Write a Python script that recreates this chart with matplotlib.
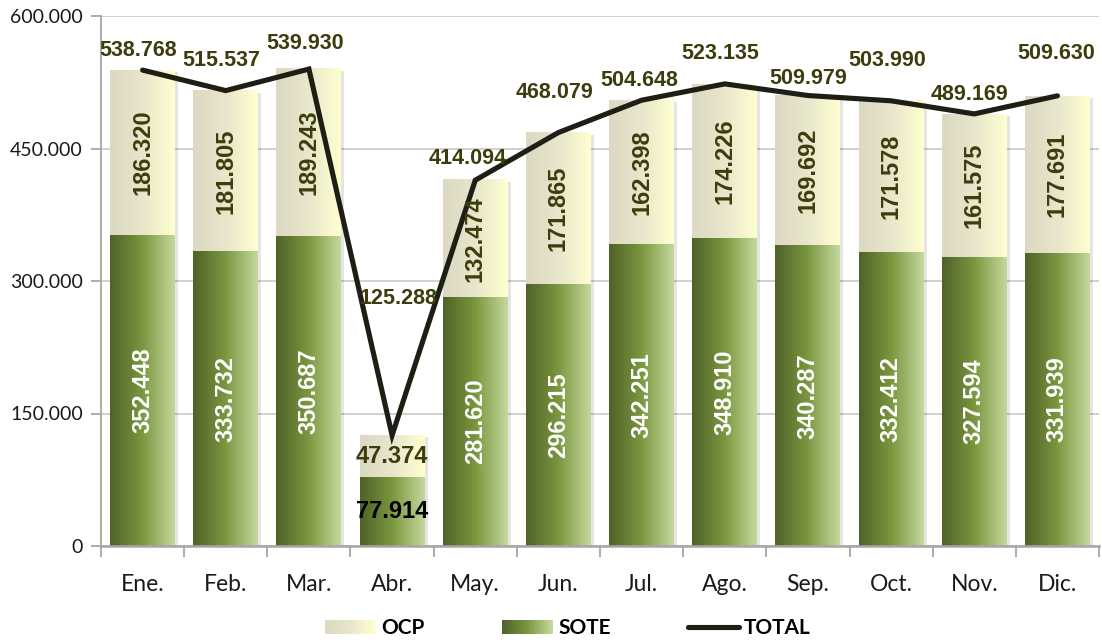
import numpy as np
import matplotlib
matplotlib.use("Agg")
import matplotlib.pyplot as plt
from matplotlib.colors import LinearSegmentedColormap
from matplotlib.patches import Rectangle
from matplotlib.lines import Line2D
from matplotlib.legend_handler import HandlerBase
from matplotlib.ticker import FuncFormatter, FixedLocator
import matplotlib.transforms as mtransforms

# ---------------- data ----------------
months = ["Ene.", "Feb.", "Mar.", "Abr.", "May.", "Jun.", "Jul.", "Ago.", "Sep.", "Oct.", "Nov.", "Dic."]
sote = [352448, 333732, 350687, 77914, 281620, 296215, 342251, 348910, 340287, 332412, 327594, 331939]
ocp = [186320, 181805, 189243, 47374, 132474, 171865, 162398, 174226, 169692, 171578, 161575, 177691]
total = [538768, 515537, 539930, 125288, 414094, 468079, 504648, 523135, 509979, 503990, 489169, 509630]

# label offsets (pixels) for total labels
total_label_offsets = [(-4, 20), (-4, 30), (-4, 26), (6, 137), (-8, 22), (-4, 40),
                       (-2, 20), (-5, 30), (0, 17), (-4, 40), (-5, 19), (-1, 42)]

def fmt(v):
    return f"{v:,.0f}".replace(",", ".")

# ---------------- style ----------------
sote_cmap = LinearSegmentedColormap.from_list("sote", ["#4f6228", "#7a973f", "#c5d89d"])
ocp_cmap = LinearSegmentedColormap.from_list("ocp", ["#dcd8c2", "#e8e6cb", "#ffffd0"])
label_col = "#3d3c0c"
line_col = "#1e1e14"
grid_col = "#c3c3c3"
spine_col = "#a6a6a6"

fig = plt.figure(figsize=(11.02, 6.43), dpi=100)
ax = fig.add_axes([101 / 1102, 97 / 643, 998 / 1102, 530 / 643])

x = np.arange(len(months))
w = 0.78

b_sote = ax.bar(x, sote, width=w, color="none", edgecolor="none", zorder=2)
b_ocp = ax.bar(x, ocp, width=w, bottom=sote, color="none", edgecolor="none", zorder=2)

shadow_tr = mtransforms.offset_copy(ax.transData, fig=fig, x=3, y=-2, units="dots")

def grad_fill(patch, cmap):
    x0, y0 = patch.get_x(), patch.get_y()
    pw, ph = patch.get_width(), patch.get_height()
    img = np.linspace(0, 1, 256).reshape(1, -1)
    ax.imshow(img, extent=(x0, x0 + pw, y0, y0 + ph), cmap=cmap, aspect="auto",
              zorder=2, interpolation="bilinear")

for ps, po in zip(b_sote, b_ocp):
    x0 = ps.get_x()
    top = po.get_y() + po.get_height()
    ax.add_patch(Rectangle((x0, 0), ps.get_width(), top, transform=shadow_tr,
                           facecolor="black", alpha=0.10, edgecolor="none", zorder=1.5))
    grad_fill(ps, sote_cmap)
    grad_fill(po, ocp_cmap)

ax.plot(x, total, color=line_col, lw=3.7, zorder=4, solid_joinstyle="miter", solid_capstyle="round")

# bar labels
bar_font = dict(family="Liberation Sans", weight="bold", fontsize=17)
for i, (s, o) in enumerate(zip(sote, ocp)):
    if s > 150000:
        ax.text(x[i], s / 2, fmt(s), rotation=90, ha="center", va="center",
                color="white", zorder=5, **bar_font)
        ax.text(x[i], s + o / 2, fmt(o), rotation=90, ha="center", va="center",
                color=label_col, zorder=5, **bar_font)
    else:
        ax.text(x[i], s / 2, fmt(s), ha="center", va="center",
                color="black", zorder=5, **bar_font)
        ax.text(x[i], s + o / 2, fmt(o), ha="center", va="center",
                color=label_col, zorder=5, **bar_font)

for i, t in enumerate(total):
    dx, dy = total_label_offsets[i]
    ax.annotate(fmt(t), (x[i], t), xytext=(dx, dy), textcoords="offset pixels",
                ha="center", va="center", color=label_col, zorder=6,
                family="Liberation Sans", weight="bold", fontsize=15.5)

# axes
ax.set_xlim(-0.5, len(months) - 0.5)
ax.set_ylim(0, 600000)
ax.set_yticks([0, 150000, 300000, 450000, 600000])
ax.yaxis.set_major_formatter(FuncFormatter(lambda v, p: fmt(v)))
ax.set_xticks(x)
ax.set_xticklabels(months)
ax.xaxis.set_minor_locator(FixedLocator(np.arange(-0.5, len(months), 1.0)))
ax.tick_params(axis="x", which="major", length=0, pad=20, labelsize=16.5, labelcolor="#1a1a1a")
ax.tick_params(axis="x", which="minor", length=8, width=1.3, color=spine_col, direction="out")
ax.tick_params(axis="y", which="major", length=7, width=1.3, color=spine_col, pad=6,
               labelsize=14, labelcolor="#1a1a1a")
for lab in ax.get_xticklabels() + ax.get_yticklabels():
    lab.set_family("Lato")

ax.grid(axis="y", color=grid_col, lw=1.1, zorder=0)
ax.set_axisbelow(True)
for s in ["top", "right"]:
    ax.spines[s].set_visible(False)
ax.spines["left"].set_color(spine_col)
ax.spines["left"].set_linewidth(1.3)
ax.spines["bottom"].set_color(spine_col)
ax.spines["bottom"].set_linewidth(1.8)
ax.spines["bottom"].set_zorder(3)

# legend
class GradHandler(HandlerBase):
    def __init__(self, cmap):
        super().__init__()
        self.cmap = cmap

    def create_artists(self, legend, orig_handle, xdescent, ydescent, width, height, fontsize, trans):
        n = 40
        arts = []
        for k in range(n):
            r = Rectangle((-xdescent + k * width / n, -ydescent), width / n * 1.1, height,
                          facecolor=self.cmap(k / (n - 1)), edgecolor="none", transform=trans)
            arts.append(r)
        return arts

h_ocp = Rectangle((0, 0), 1, 1)
h_sote = Rectangle((0, 0), 1, 1)
h_tot = Line2D([0], [0], color=line_col, lw=3.7, solid_capstyle="round")
leg = fig.legend([h_ocp, h_sote, h_tot], ["OCP", "SOTE", "TOTAL"],
                 handler_map={h_ocp: GradHandler(ocp_cmap), h_sote: GradHandler(sote_cmap)},
                 loc="center", bbox_to_anchor=(568 / 1102, 1 - 628 / 643), ncol=3, frameon=False,
                 prop=dict(family="Lato", weight="bold", size=15),
                 handlelength=2.45, handletextpad=0.25, columnspacing=3.7, handleheight=0.65)

fig.savefig("out.png", dpi=100)
